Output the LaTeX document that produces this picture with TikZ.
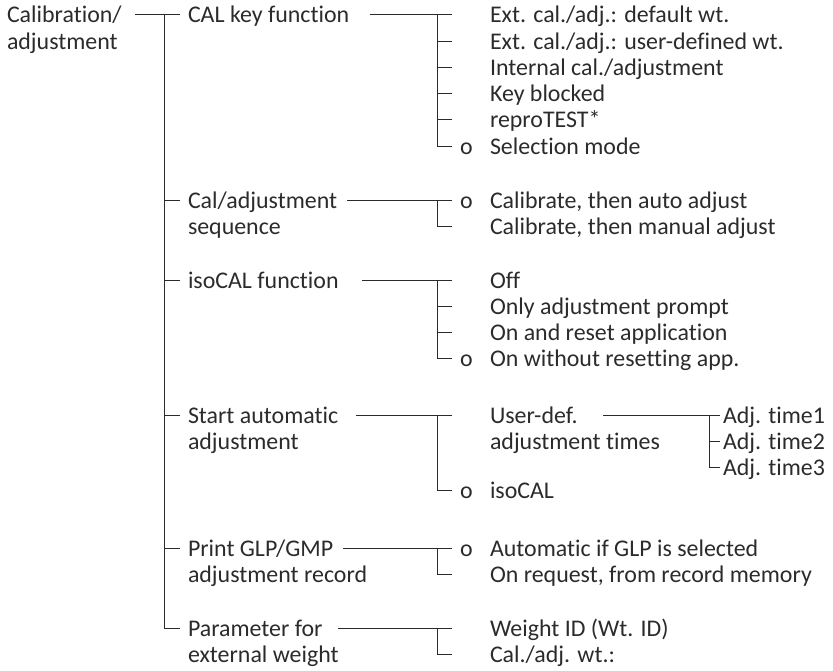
\documentclass[tikz,border=0pt]{standalone}
\usepackage{fontspec}
\setmainfont{Carlito}[Ligatures=NoCommon]
\usetikzlibrary{calc}
\definecolor{ink}{HTML}{2B2B2B}
\newcommand{\twol}[2]{\begin{tabular}[t]{@{}l@{}}#1\\#2\end{tabular}}
\begin{document}
\begin{tikzpicture}[x=1pt,y=1pt,
  lbl/.style={anchor=base west, inner sep=0pt, outer sep=0pt, text=ink, font=\fontsize{23.9}{26.3}\selectfont},
  conn/.style={draw=ink, line width=0.85pt}]
\useasboundingbox (0,0) rectangle (833,-670);

% root
\node[lbl] (root) at (7,-22.7) {\twol{Calibration/}{adjustment}};
% level 1
\node[lbl] (a) at (188,-22.7) {CAL key function};
\node[lbl] (b) at (188,-208) {\twol{Cal/adjustment}{sequence}};
\node[lbl] (c) at (188,-288) {isoCAL function};
\node[lbl] (d) at (188,-423) {\twol{Start automatic}{adjustment}};
\node[lbl] (e) at (188,-556) {\twol{Print GLP/GMP}{adjustment record}};
\node[lbl] (f) at (188,-636) {\twol{Parameter for}{external weight}};

% level 2
\node[lbl] (a1) at (490,-22.7) {Ext. cal./adj.: default wt.};
\node[lbl] (a2) at (490,-49.0) {Ext. cal./adj.: user-defined wt.};
\node[lbl] (a3) at (490,-75.3) {Internal cal./adjustment};
\node[lbl] (a4) at (490,-101.6) {Key blocked};
\node[lbl] (a5) at (490,-127.9) {reproTEST*};
\node[lbl] (a6) at (490,-154.2) {Selection mode};

\node[lbl] (b1) at (490,-208) {Calibrate, then auto adjust};
\node[lbl] (b2) at (490,-234.3) {Calibrate, then manual adjust};

\node[lbl] (c1) at (490,-288) {Off};
\node[lbl] (c2) at (490,-314.3) {Only adjustment prompt};
\node[lbl] (c3) at (490,-340.6) {On and reset application};
\node[lbl] (c4) at (490,-366.9) {On without resetting app.};

\node[lbl] (d1) at (490,-423) {\twol{User-def.}{adjustment times}};
\node[lbl] (d2) at (490,-498) {isoCAL};

\node[lbl] (e1) at (490,-556) {Automatic if GLP is selected};
\node[lbl] (e2) at (490,-582.3) {On request, from record memory};

\node[lbl] (f1) at (490,-636) {Weight ID (Wt. ID)};
\node[lbl] (f2) at (490,-662.3) {Cal./adj. wt.:};

% level 3
\node[lbl] (t1) at (723,-423) {Adj. time1};
\node[lbl] (t2) at (723,-449.3) {Adj. time2};
\node[lbl] (t3) at (723,-475.6) {Adj. time3};

% default markers
\node[lbl] (oa6) at (460,-154.2) {o};
\node[lbl] (ob1) at (460,-208) {o};
\node[lbl] (oc4) at (460,-366.9) {o};
\node[lbl] (od2) at (460,-498) {o};
\node[lbl] (oe1) at (460,-556) {o};

% ---- connectors ----
% root and trunk
\coordinate (r0) at (135,-14.7);
\draw[conn] (r0) -- ($(a.base west)+(-8,8)$);
\draw[conn] ($(a.base west)+(-24,8)$) |- ($(f.base west)+(-8,8)$);
\foreach \n in {b,c,d,e}
  \draw[conn] ($(\n.base west)+(-24,8)$) -- ($(\n.base west)+(-8,8)$);

% group a
\coordinate (sa) at (370,-14.7);
\draw[conn] (sa) -- ($(a1.base west)+(-38,8)$);
\draw[conn] ($(a1.base west)+(-53,8)$) |- ($(a6.base west)+(-38,8)$);
\foreach \n in {a2,a3,a4,a5}
  \draw[conn] ($(\n.base west)+(-53,8)$) -- ($(\n.base west)+(-38,8)$);

% group b
\coordinate (sb) at (347,-200);
\draw[conn] (sb) -- ($(b1.base west)+(-38,8)$);
\draw[conn] ($(b1.base west)+(-53,8)$) |- ($(b2.base west)+(-38,8)$);

% group c
\coordinate (sc) at (362,-280);
\draw[conn] (sc) -- ($(c1.base west)+(-38,8)$);
\draw[conn] ($(c1.base west)+(-53,8)$) |- ($(c4.base west)+(-38,8)$);
\foreach \n in {c2,c3}
  \draw[conn] ($(\n.base west)+(-53,8)$) -- ($(\n.base west)+(-38,8)$);

% group d
\coordinate (sd) at (356,-415);
\draw[conn] (sd) -- ($(d1.base west)+(-38,8)$);
\draw[conn] ($(d1.base west)+(-53,8)$) |- ($(d2.base west)+(-38,8)$);

% group e
\coordinate (se) at (343,-548);
\draw[conn] (se) -- ($(e1.base west)+(-38,8)$);
\draw[conn] ($(e1.base west)+(-53,8)$) |- ($(e2.base west)+(-38,8)$);

% group f
\coordinate (sf) at (338,-628);
\draw[conn] (sf) -- ($(f1.base west)+(-38,8)$);
\draw[conn] ($(f1.base west)+(-53,8)$) |- ($(f2.base west)+(-38,8)$);

% level 3
\coordinate (sg) at (603,-415);
\draw[conn] (sg) -- ($(t1.base west)+(-3,8)$);
\draw[conn] ($(t1.base west)+(-14,8)$) |- ($(t3.base west)+(-3,8)$);
\draw[conn] ($(t2.base west)+(-14,8)$) -- ($(t2.base west)+(-3,8)$);
\end{tikzpicture}
\end{document}
